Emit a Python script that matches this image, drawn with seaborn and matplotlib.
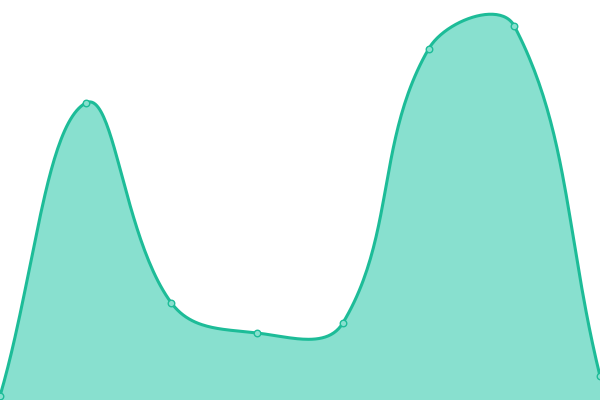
import numpy as np
import pandas as pd
import matplotlib
matplotlib.use("Agg")
import matplotlib.pyplot as plt
import seaborn as sns

# data (y grows upward, 0 = bottom edge)
categories = [0, 1, 2, 3, 4, 5, 6, 7]
values = [4, 297, 97, 67, 77, 351, 374, 24]

LINE = "#1dbc98"
FILL = "#88e0cf"
W, H = 600, 400
TENSION = 0.4


def spline_curve(x, y, n=50):
    """bezier curve through points, control points like a tension-0.4 spline"""
    # work in pixel space so the distances are right
    px = np.asarray(x, float) * W / (len(x) - 1)
    py = np.asarray(y, float)
    pts = np.column_stack([px, py])
    k = len(pts)
    cp_prev = pts.copy()
    cp_next = pts.copy()
    for i in range(k):
        prv = pts[max(i - 1, 0)]
        nxt = pts[min(i + 1, k - 1)]
        d01 = np.hypot(*(pts[i] - prv))
        d12 = np.hypot(*(nxt - pts[i]))
        tot = d01 + d12
        if tot == 0:
            continue
        fa = TENSION * d01 / tot
        fb = TENSION * d12 / tot
        cp_prev[i] = pts[i] - fa * (nxt - prv)
        cp_next[i] = pts[i] + fb * (nxt - prv)
    # keep control points inside the area
    for cp in (cp_prev, cp_next):
        cp[:, 0] = np.clip(cp[:, 0], 0, W)
        cp[:, 1] = np.clip(cp[:, 1], 0, H)
    xs, ys = [], []
    t = np.linspace(0, 1, n, endpoint=False)[:, None]
    for i in range(k - 1):
        p0, p1, p2, p3 = pts[i], cp_next[i], cp_prev[i + 1], pts[i + 1]
        b = ((1 - t) ** 3) * p0 + 3 * ((1 - t) ** 2) * t * p1 \
            + 3 * (1 - t) * t ** 2 * p2 + t ** 3 * p3
        xs.append(b[:, 0])
        ys.append(b[:, 1])
    xs.append([pts[-1, 0]])
    ys.append([pts[-1, 1]])
    sx = np.concatenate(xs) * (len(x) - 1) / W
    return sx, np.concatenate(ys)


sx, sy = spline_curve(categories, values)
curve = pd.DataFrame({"x": sx, "y": sy})
pts = pd.DataFrame({"x": categories, "y": values})

sns.set_theme(style="white")
fig = plt.figure(figsize=(6, 4), dpi=100)
ax = fig.add_axes([0, 0, 1, 1])

ax.fill_between(curve["x"], curve["y"], 0, color=FILL, linewidth=0)
sns.lineplot(data=curve, x="x", y="y", ax=ax, color=LINE, linewidth=2.2,
             sort=False, estimator=None)
sns.scatterplot(data=pts, x="x", y="y", ax=ax, s=22, color=FILL,
                edgecolor=LINE, linewidth=1, zorder=5, clip_on=False)

ax.set_xlim(0, 7)
ax.set_ylim(0, H)
ax.axis("off")

fig.savefig("out.png", dpi=100)
